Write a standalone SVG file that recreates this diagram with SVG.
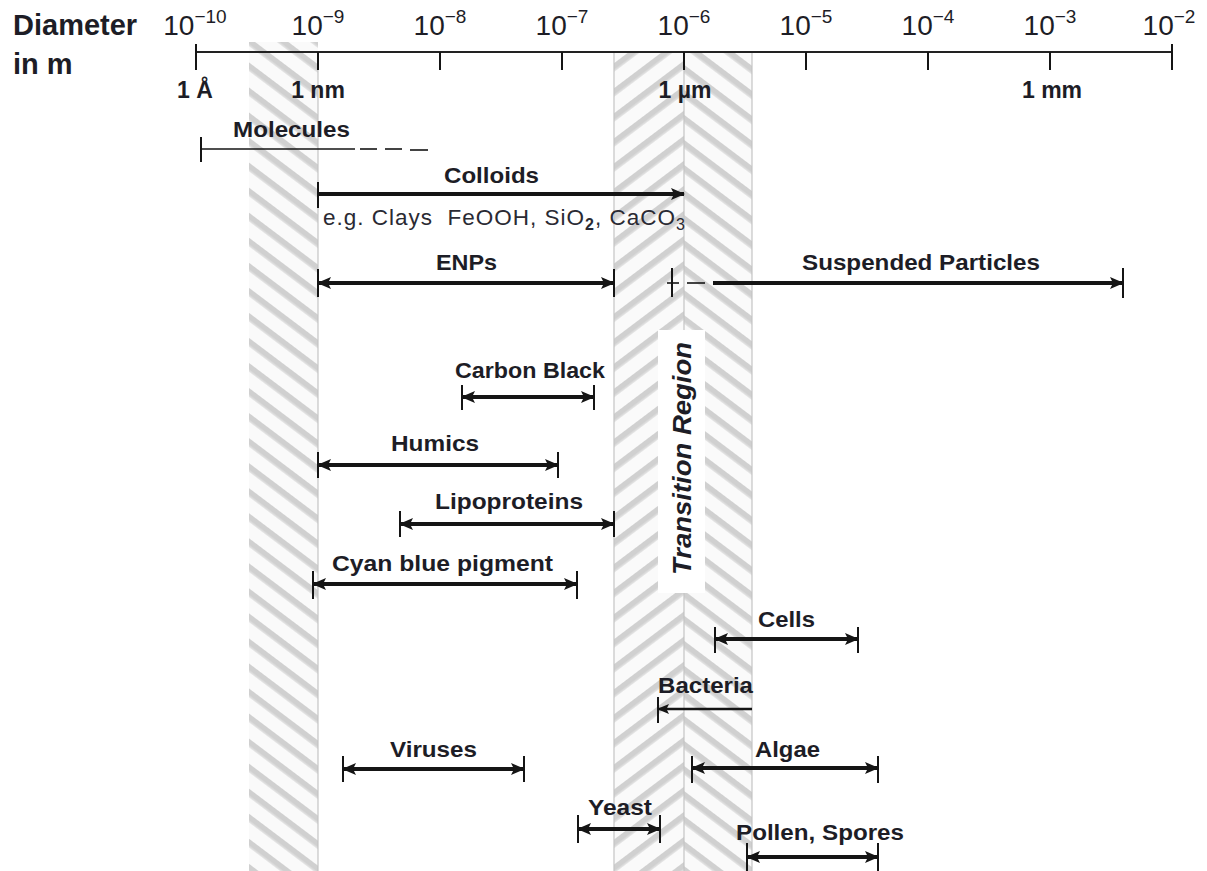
<svg xmlns="http://www.w3.org/2000/svg" width="1207" height="871" viewBox="0 0 1207 871">
<style>
.lbl{font-family:"Liberation Sans",Arial,sans-serif;font-weight:bold;font-size:22px;fill:#1d1d26;text-anchor:middle}
.ax{font-family:"Liberation Sans",Arial,sans-serif;font-size:28px;fill:#1d1d26;text-anchor:middle}
.unit{font-family:"Liberation Sans",Arial,sans-serif;font-weight:bold;font-size:23px;fill:#1d1d26;text-anchor:middle}
.big{font-family:"Liberation Sans",Arial,sans-serif;font-weight:bold;font-size:29px;fill:#1d1d26}
.reg{font-family:"Liberation Sans",Arial,sans-serif;font-size:22.5px;fill:#2a2a33;letter-spacing:1px}
.bar{stroke:#151515;stroke-width:4;fill:none}
.thin{stroke:#151515;stroke-width:1.6;fill:none}
.tick{stroke:#151515;stroke-width:2;fill:none}
.edge{stroke:#c4c4c4;stroke-width:1.2;fill:none}
</style>
<defs>
<pattern id="hatchR" patternUnits="userSpaceOnUse" width="20" height="20" patternTransform="rotate(37)">
<rect width="20" height="20" fill="#fafafa"/><rect y="0" width="20" height="6" fill="#d0d0d0"/><rect y="5.5" width="20" height="1.5" fill="#e2e2e2"/>
</pattern>
<pattern id="hatchL" patternUnits="userSpaceOnUse" width="20" height="20" patternTransform="rotate(-37)">
<rect width="20" height="20" fill="#fafafa"/><rect y="0" width="20" height="6" fill="#d0d0d0"/><rect y="5.5" width="20" height="1.5" fill="#e2e2e2"/>
</pattern>
<marker id="ah" viewBox="0 0 14 12" refX="13" refY="6" markerWidth="14" markerHeight="12" markerUnits="userSpaceOnUse" orient="auto-start-reverse">
<path d="M0,0 L14,6 L0,12 L3,6 z" fill="#151515"/>
</marker>
<marker id="ahs" viewBox="0 0 12 10" refX="11" refY="5" markerWidth="12" markerHeight="10" markerUnits="userSpaceOnUse" orient="auto-start-reverse">
<path d="M0,0 L12,5 L0,10 L2.5,5 z" fill="#151515"/>
</marker>
</defs>
<rect width="1207" height="871" fill="#ffffff"/>

<g id="bands">
<rect x="249" y="42" width="69" height="829" fill="url(#hatchR)"/>
<rect x="614" y="52" width="70" height="819" fill="url(#hatchL)"/>
<rect x="684" y="52" width="68" height="819" fill="url(#hatchR)"/>
<line class="edge" x1="318" y1="52" x2="318" y2="871"/>
<line class="edge" x1="614" y1="52" x2="614" y2="871"/>
<line class="edge" x1="684" y1="52" x2="684" y2="871"/>
<line class="edge" x1="752" y1="52" x2="752" y2="871"/>
</g>

<g id="transition-region">
<rect x="658" y="330" width="47" height="263" fill="#ffffff"/>
<text transform="translate(691,458.5) rotate(-90)" font-family="Liberation Sans, Arial, sans-serif" font-weight="bold" font-style="italic" font-size="25" fill="#1d1d26" text-anchor="middle" textLength="233" lengthAdjust="spacingAndGlyphs">Transition Region</text>
</g>

<g id="axis">
<text class="big" x="13" y="35">Diameter</text>
<text class="big" x="13" y="74">in m</text>
<line x1="196" y1="52" x2="1172" y2="52" stroke="#222" stroke-width="2"/>
<g class="tick">
<line x1="196" y1="44" x2="196" y2="70"/>
<line x1="318" y1="52" x2="318" y2="70"/>
<line x1="440" y1="52" x2="440" y2="70"/>
<line x1="562" y1="52" x2="562" y2="70"/>
<line x1="684" y1="52" x2="684" y2="70"/>
<line x1="806" y1="52" x2="806" y2="70"/>
<line x1="928" y1="52" x2="928" y2="70"/>
<line x1="1050" y1="52" x2="1050" y2="70"/>
<line x1="1172" y1="44" x2="1172" y2="70"/>
</g>
<text class="ax" x="195" y="35">10<tspan dy="-12" font-size="19">−10</tspan></text>
<text class="ax" x="318" y="35">10<tspan dy="-12" font-size="19">−9</tspan></text>
<text class="ax" x="440" y="35">10<tspan dy="-12" font-size="19">−8</tspan></text>
<text class="ax" x="562" y="35">10<tspan dy="-12" font-size="19">−7</tspan></text>
<text class="ax" x="684" y="35">10<tspan dy="-12" font-size="19">−6</tspan></text>
<text class="ax" x="806" y="35">10<tspan dy="-12" font-size="19">−5</tspan></text>
<text class="ax" x="928" y="35">10<tspan dy="-12" font-size="19">−4</tspan></text>
<text class="ax" x="1050" y="35">10<tspan dy="-12" font-size="19">−3</tspan></text>
<text class="ax" x="1169" y="35">10<tspan dy="-12" font-size="19">−2</tspan></text>
<text class="unit" x="195" y="98">1 Å</text>
<text class="unit" x="318" y="98">1 nm</text>
<text class="unit" x="685" y="98">1 µm</text>
<text class="unit" x="1052" y="98">1 mm</text>
</g>

<g id="molecules"><text class="lbl" x="291.5" y="137" textLength="117" lengthAdjust="spacingAndGlyphs">Molecules</text></g>
<g id="colloids"><text class="lbl" x="491.5" y="183" textLength="95" lengthAdjust="spacingAndGlyphs">Colloids</text>
<text class="reg" x="323" y="225" xml:space="preserve">e.g. Clays  FeOOH, SiO<tspan font-size="16" dy="5" font-weight="bold">2</tspan><tspan dy="-5">, CaCO</tspan><tspan font-size="16" dy="5">3</tspan></text></g>
<g id="enps"><text class="lbl" x="466.5" y="270" textLength="61" lengthAdjust="spacingAndGlyphs">ENPs</text></g>
<g id="suspended-particles"><text class="lbl" x="921" y="270" textLength="238" lengthAdjust="spacingAndGlyphs">Suspended Particles</text></g>
<g id="carbon-black"><text class="lbl" x="530" y="378" textLength="150" lengthAdjust="spacingAndGlyphs">Carbon Black</text></g>
<g id="humics"><text class="lbl" x="435" y="451" textLength="88" lengthAdjust="spacingAndGlyphs">Humics</text></g>
<g id="lipoproteins"><text class="lbl" x="509" y="509" textLength="148" lengthAdjust="spacingAndGlyphs">Lipoproteins</text></g>
<g id="cyan-blue-pigment"><text class="lbl" x="442.5" y="571" textLength="221" lengthAdjust="spacingAndGlyphs">Cyan blue pigment</text></g>
<g id="cells"><text class="lbl" x="786.5" y="627" textLength="57" lengthAdjust="spacingAndGlyphs">Cells</text></g>
<g id="bacteria"><text class="lbl" x="705.5" y="693" textLength="95" lengthAdjust="spacingAndGlyphs">Bacteria</text></g>
<g id="viruses"><text class="lbl" x="433.5" y="757" textLength="87" lengthAdjust="spacingAndGlyphs">Viruses</text></g>
<g id="algae"><text class="lbl" x="787.5" y="757" textLength="65" lengthAdjust="spacingAndGlyphs">Algae</text></g>
<g id="yeast"><text class="lbl" x="620" y="815" textLength="64" lengthAdjust="spacingAndGlyphs">Yeast</text></g>
<g id="pollen-spores"><text class="lbl" x="820" y="840" textLength="168" lengthAdjust="spacingAndGlyphs">Pollen, Spores</text></g>

<g id="connectors">
<line class="tick" x1="201" y1="137" x2="201" y2="162"/>
<line class="thin" x1="201" y1="149" x2="355" y2="149"/>
<line class="thin" x1="360" y1="149" x2="377" y2="149"/>
<line class="thin" x1="385" y1="149" x2="402" y2="149"/>
<line class="thin" x1="410" y1="150" x2="428" y2="150"/>
<line class="tick" x1="318" y1="182" x2="318" y2="208"/>
<line class="bar" x1="318" y1="194" x2="684" y2="194" marker-end="url(#ah)"/>
<line class="tick" x1="318" y1="269" x2="318" y2="297"/>
<line class="tick" x1="614" y1="269" x2="614" y2="297"/>
<line class="bar" x1="318" y1="283" x2="614" y2="283" marker-start="url(#ah)" marker-end="url(#ah)"/>
<line class="tick" x1="672" y1="268" x2="672" y2="297"/>
<line class="thin" x1="667" y1="283" x2="679" y2="283"/>
<line class="thin" x1="687" y1="283" x2="705" y2="283"/>
<line class="bar" x1="713" y1="283" x2="1123" y2="283" marker-end="url(#ah)"/>
<line class="tick" x1="1123" y1="268" x2="1123" y2="298"/>
<line class="tick" x1="462" y1="385" x2="462" y2="410"/>
<line class="tick" x1="594" y1="385" x2="594" y2="410"/>
<line class="bar" x1="462" y1="397" x2="594" y2="397" marker-start="url(#ah)" marker-end="url(#ah)"/>
<line class="tick" x1="318" y1="452" x2="318" y2="478"/>
<line class="tick" x1="558" y1="452" x2="558" y2="478"/>
<line class="bar" x1="318" y1="465" x2="558" y2="465" marker-start="url(#ah)" marker-end="url(#ah)"/>
<line class="tick" x1="400" y1="511" x2="400" y2="537"/>
<line class="tick" x1="614" y1="511" x2="614" y2="537"/>
<line class="bar" x1="400" y1="524" x2="614" y2="524" marker-start="url(#ah)" marker-end="url(#ah)"/>
<line class="tick" x1="313" y1="571" x2="313" y2="599"/>
<line class="tick" x1="577" y1="571" x2="577" y2="599"/>
<line class="bar" x1="313" y1="584" x2="577" y2="584" marker-start="url(#ah)" marker-end="url(#ah)"/>
<line class="tick" x1="715" y1="627" x2="715" y2="653"/>
<line class="tick" x1="858" y1="627" x2="858" y2="653"/>
<line class="bar" x1="715" y1="639" x2="858" y2="639" marker-start="url(#ah)" marker-end="url(#ah)"/>
<line class="tick" x1="658" y1="697" x2="658" y2="723"/>
<line x1="752" y1="709" x2="658" y2="709" stroke="#151515" stroke-width="2.6" marker-end="url(#ahs)"/>
<line class="tick" x1="343" y1="756" x2="343" y2="782"/>
<line class="tick" x1="524" y1="756" x2="524" y2="782"/>
<line class="bar" x1="343" y1="769" x2="524" y2="769" marker-start="url(#ah)" marker-end="url(#ah)"/>
<line class="tick" x1="692" y1="756" x2="692" y2="783"/>
<line class="tick" x1="878" y1="756" x2="878" y2="783"/>
<line class="bar" x1="692" y1="768" x2="878" y2="768" marker-start="url(#ah)" marker-end="url(#ah)"/>
<line class="tick" x1="578" y1="815" x2="578" y2="843"/>
<line class="tick" x1="660" y1="815" x2="660" y2="843"/>
<line class="bar" x1="578" y1="829" x2="660" y2="829" marker-start="url(#ah)" marker-end="url(#ah)"/>
<line class="tick" x1="747" y1="843" x2="747" y2="871"/>
<line class="tick" x1="878" y1="843" x2="878" y2="871"/>
<line class="bar" x1="747" y1="857" x2="878" y2="857" marker-start="url(#ah)" marker-end="url(#ah)"/>
</g>
</svg>
